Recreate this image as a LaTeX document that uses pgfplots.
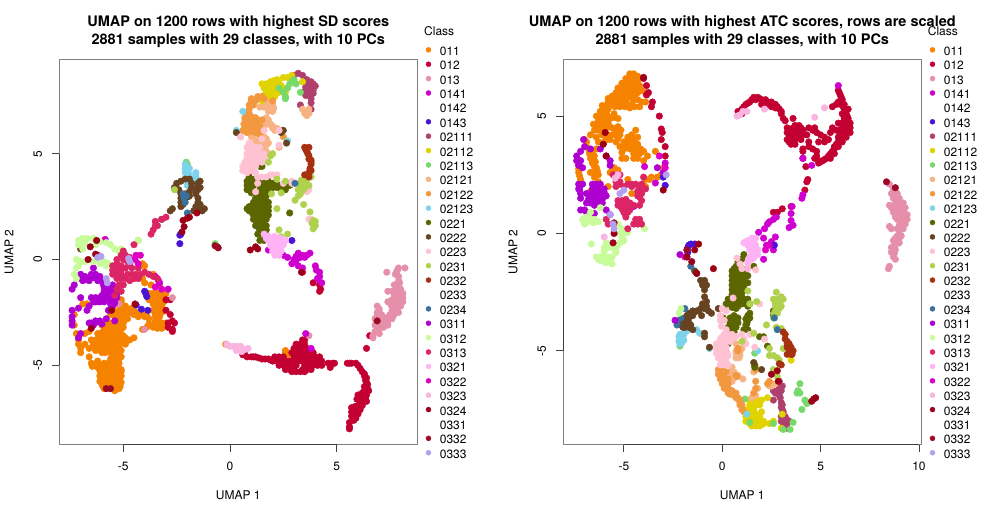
\documentclass[border=0pt]{standalone}
\usepackage{fontspec}
\setmainfont{TeX Gyre Heros}
\usepackage{pgfplots}
\pgfplotsset{compat=1.18}
\definecolor{c011}{HTML}{F58300}
\definecolor{c012}{HTML}{C20032}
\definecolor{c013}{HTML}{E58FAB}
\definecolor{c0141}{HTML}{CF00CF}
\definecolor{c0143}{HTML}{4B13D6}
\definecolor{c02111}{HTML}{AF3F6C}
\definecolor{c02112}{HTML}{E0D300}
\definecolor{c02113}{HTML}{76D96A}
\definecolor{c02121}{HTML}{F7B384}
\definecolor{c02122}{HTML}{F2993F}
\definecolor{c02123}{HTML}{7CD3EC}
\definecolor{c0221}{HTML}{5B6600}
\definecolor{c0222}{HTML}{684321}
\definecolor{c0223}{HTML}{FFC2D2}
\definecolor{c0231}{HTML}{B0D14E}
\definecolor{c0232}{HTML}{A6300F}
\definecolor{c0234}{HTML}{38719E}
\definecolor{c0311}{HTML}{AE00D0}
\definecolor{c0312}{HTML}{C8FB9A}
\definecolor{c0313}{HTML}{DC2565}
\definecolor{c0321}{HTML}{FFB3F5}
\definecolor{c0322}{HTML}{DE00C2}
\definecolor{c0323}{HTML}{FAB4E0}
\definecolor{c0324}{HTML}{9B0018}
\definecolor{c0332}{HTML}{9D0A28}
\definecolor{c0333}{HTML}{B4A0EE}
\definecolor{boxgray}{HTML}{808080}
\newcommand{\txt}{\fontsize{12}{14}\selectfont}
\pgfplotsset{
  cl/.style={only marks,mark=*,mark size=3.3pt,color=#1,mark options={draw=none,fill=#1}},
  panel/.style={
    scale only axis,width=358pt,height=385.4pt,anchor=south west,clip=false,
    axis line style={draw=boxgray,line width=0.9pt},
    tick style={draw=black!75,line width=0.8pt},
    tick align=outside,major tick length=7pt,
    xtick pos=bottom,ytick pos=left,
    tick label style={font=\txt},
    xticklabel style={yshift=-6.5pt},
    yticklabel style={rotate=90,anchor=center,yshift=14.5pt},
    label style={font=\txt},
    xlabel style={at={(axis description cs:0.5,0)},anchor=center,yshift=-50.5pt},
    ylabel style={at={(axis description cs:0,0.5)},anchor=center,yshift=50.3pt},
    title style={font=\fontsize{14.5}{18}\selectfont\bfseries,align=center,anchor=center,yshift=-7.5pt},
    xlabel={UMAP 1},ylabel={UMAP 2},
    legend cell align=left,
    legend image code/.code={\draw[##1,mark size=2.5pt,yshift=1pt] plot coordinates {(0pt,0pt)};},
    legend style={draw=none,fill=none,inner sep=0pt,font=\txt,row sep=5.39pt,
      anchor=north west,at={(axis description cs:1.0237,1.0342)},
      nodes={inner sep=0pt,text height=9pt,text depth=0pt},
      /tikz/every even column/.style={column sep=0pt},
      /tikz/every odd column/.style={column sep=8.9pt}},
  }
}
\newcommand{\Cl}[3]{\addplot[cl=#1] coordinates {#3};\addlegendentry{#2}}
\newcommand{\Em}[1]{\addlegendimage{cl=white}\addlegendentry{#1}}
\begin{document}
\begin{tikzpicture}[x=1pt,y=1pt]
\path[use as bounding box] (0,0) rectangle (1008pt,504pt);
\begin{axis}[panel,at={(59.3pt,59.3pt)},xmin=-8.0,xmax=8.78,ymin=-8.75,ymax=9.46,
  xtick={-5,0,5},xticklabels={-5,0,5},ytick={-5,0,5},yticklabels={-5,0,5},
  title={UMAP on 1200 rows with highest SD scores\\2881 samples with 29 classes, with 10 PCs},
  title style={at={(axis description cs:0.5,1.076)}}]
\Cl{c011}{011}{(-5.9,-6.1)(-5.6,-6.1)(-5.4,-6.2)(-5.2,-6.1)(-6.0,-5.9)(-5.8,-5.8)(-5.6,-5.9)(-5.4,-5.9)(-5.2,-5.9)(-6.0,-5.6)(-5.8,-5.6)(-5.6,-5.6)(-5.4,-5.7)(-5.2,-5.7)(-6.0,-5.4)(-5.8,-5.4)(-5.6,-5.3)(-5.4,-5.4)(-5.2,-5.4)(-6.4,-5.0)(-6.2,-5.1)(-6.0,-5.1)(-5.8,-5.1)(-5.5,-5.1)(-5.3,-5.1)(-5.1,-5.2)(-6.5,-4.9)(-6.2,-4.8)(-5.9,-4.9)(-5.7,-4.9)(-5.4,-4.9)(-5.2,-4.9)(-5.6,-4.7)(-5.4,-4.7)(-5.2,-4.7)(-5.5,-4.5)(-5.3,-4.5)(-5.5,-4.3)(-5.3,-4.3)(-5.2,-4.1)(-5.5,-4.1)(-6.0,-3.1)(-5.8,-3.0)(-5.6,-3.0)(-5.4,-3.0)(-5.2,-3.0)(-5.0,-3.0)(-5.9,-3.3)(-5.7,-3.3)(-5.5,-3.3)(-5.3,-3.3)(-5.1,-3.3)(-6.1,-3.6)(-5.9,-3.6)(-5.6,-3.5)(-5.4,-3.5)(-5.2,-3.5)(-5.0,-3.6)(-6.5,-3.8)(-6.3,-3.8)(-6.0,-3.8)(-5.8,-3.8)(-5.5,-3.8)(-5.3,-3.8)(-5.1,-3.9)(-4.9,-3.9)(-4.7,-3.8)(-4.5,-3.7)(-6.4,-4.0)(-6.2,-4.0)(-5.9,-4.0)(-5.7,-4.0)(-4.9,-4.0)(-6.3,-4.2)(-6.1,-4.3)(-5.9,-4.2)(-5.7,-4.2)(-6.6,-4.2)(-6.8,-4.0)(-5.4,-2.7)(-5.2,-2.7)(-5.0,-2.6)(-4.8,-2.6)(-4.6,-2.5)(-5.2,-2.4)(-5.0,-2.4)(-4.8,-2.4)(-4.6,-2.3)(-5.1,-2.2)(-4.9,-2.2)(-5.3,-2.1)(-5.1,-2.0)(-5.6,-2.6)(-5.5,-2.4)(-4.9,-2.8)(-7.2,-3.5)(-7.1,-3.8)(-7.1,-4.0)(-7.0,-4.2)(-7.0,-4.4)(-6.6,-4.6)(-6.6,-3.4)(-6.8,-3.5)(-3.8,-1.6)(-3.6,-1.6)(-3.4,-1.6)(-3.2,-1.7)(-3.0,-1.6)(-3.8,-1.9)(-3.6,-1.9)(-3.4,-1.9)(-3.1,-2.0)(-3.6,-2.1)(-3.4,-2.2)(-3.2,-2.2)(-3.6,-2.4)(-3.4,-2.5)(-3.2,-2.5)(-4.5,-2.6)(-4.2,-2.6)(-4.0,-2.7)(-3.8,-2.8)(-3.5,-2.7)(-3.4,-2.9)(-3.7,-3.1)(-3.5,-3.1)(-3.3,-3.2)(-3.1,-3.1)(-2.9,-3.2)(-3.9,-3.2)(-4.1,-3.3)(-4.0,-1.1)(-3.7,-1.2)(-3.3,-1.2)(-4.1,-0.9)(-3.6,-0.7)(-4.0,-0.3)(-6.9,-2.1)(-6.7,-2.1)(-6.2,-2.0)(-7.3,-2.6)(-7.3,-3.1)(-5.1,-1.9)(-5.1,-1.2)(-4.1,-0.2)(2.6,-4.3)(2.7,-4.5)(2.6,-4.4)(-0.2,-4.0)(-6.1,-5.25)(-5.9,-5.25)(-5.7,-5.25)(-5.45,-5.25)(-5.25,-5.25)(-5.1,-5.3)(-5.1,-5.5)(-5.3,-5.55)(-5.5,-5.5)(-5.1,-5.8)(-5.3,-5.8)(-5.5,-5.75)(-5.15,-6.0)(-5.35,-6.05)(-5.55,-6.0)(-5.75,-6.0)(-5.95,-6.0)(-6.1,-5.75)(-6.1,-5.5)(-5.9,-5.5)(-5.7,-5.45)(-5.3,-5.0)(-5.5,-4.95)(-5.8,-5.0)(-6.05,-5.0)(-6.3,-4.95)(-6.45,-5.05)(-5.35,-4.6)(-5.2,-4.4)(-5.4,-4.2)(-5.1,-4.6)(-5.1,-4.3)(-5.6,-4.4)(-5.3,-4.0)(-6.2,-3.5)(-6.0,-3.45)(-5.8,-3.45)(-5.8,-3.15)(-5.6,-3.15)(-5.4,-3.15)(-5.2,-3.15)(-5.0,-3.2)(-5.7,-3.65)(-5.5,-3.65)(-5.3,-3.65)(-5.1,-3.7)(-4.9,-3.7)(-6.4,-3.95)(-6.2,-3.85)(-5.95,-3.75)(-6.15,-4.15)(-5.85,-4.1)(-5.75,-3.9)(-6.0,-4.4)(-5.85,-4.4)(-6.3,-4.3)(-5.3,-2.85)(-5.1,-2.85)(-5.2,-2.55)(-5.0,-2.75)(-4.8,-2.8)(-4.9,-2.5)(-4.7,-2.45)(-5.4,-2.5)(-4.5,-2.45)(-4.4,-2.5)(-4.3,-2.7)(-4.1,-2.55)(-3.9,-2.6)(-3.7,-1.75)(-3.5,-1.75)(-3.3,-1.75)(-3.6,-2.0)(-3.4,-2.05)(-3.5,-2.25)(-3.3,-2.35)(-3.5,-2.55)(-3.3,-2.7)(-3.5,-2.9)(-3.6,-3.2)(-3.4,-3.25)(-3.2,-3.25)(-3.8,-3.05)(-3.2,-3.0)(-3.1,-1.85)(-3.0,-3.0)}
\Cl{c012}{012}{(0.6,-4.5)(0.8,-4.6)(1.0,-4.6)(1.2,-4.6)(1.5,-4.7)(1.8,-4.7)(1.9,-4.75)(3.4,-3.8)(3.5,-3.8)(3.1,-4.0)(3.3,-4.0)(3.5,-4.0)(3.0,-4.2)(3.2,-4.2)(3.4,-4.2)(3.6,-4.2)(2.9,-4.4)(3.1,-4.4)(3.3,-4.4)(3.5,-4.4)(3.7,-4.4)(3.9,-4.4)(2.1,-4.6)(2.3,-4.6)(2.5,-4.6)(3.0,-4.6)(3.2,-4.6)(3.4,-4.6)(3.6,-4.6)(3.8,-4.6)(4.0,-4.6)(4.2,-4.6)(2.0,-4.8)(2.2,-4.8)(2.4,-4.8)(2.6,-4.8)(2.8,-4.8)(3.0,-4.8)(3.2,-4.8)(3.4,-4.8)(3.6,-4.8)(3.8,-4.8)(4.0,-4.8)(4.2,-4.8)(4.3,-4.8)(2.3,-5.0)(2.5,-5.0)(2.7,-5.0)(2.9,-5.0)(3.1,-5.0)(3.5,-5.0)(3.7,-5.0)(3.9,-5.0)(4.1,-5.0)(4.3,-5.0)(2.6,-5.2)(2.8,-5.2)(3.0,-5.2)(3.4,-5.2)(3.6,-5.2)(3.8,-5.2)(2.9,-5.3)(3.1,-5.3)(3.3,-5.3)(3.5,-5.3)(4.6,-4.9)(4.8,-4.9)(4.7,-5.1)(4.9,-4.9)(5.5,-4.9)(5.7,-4.9)(5.9,-4.9)(6.0,-5.0)(6.2,-5.3)(6.3,-5.5)(6.4,-5.6)(6.4,-5.8)(6.4,-6.0)(6.5,-6.2)(6.3,-6.2)(6.4,-6.4)(6.2,-6.5)(6.0,-6.4)(6.1,-6.7)(6.4,-6.7)(6.2,-6.9)(6.0,-6.9)(5.7,-7.0)(5.9,-7.1)(6.1,-7.1)(5.7,-7.2)(6.0,-7.3)(5.9,-7.5)(5.8,-7.6)(5.6,-7.7)(5.6,-7.9)(5.6,-8.0)(4.2,-1.2)(4.25,-1.4)(4.2,-1.5)(3.9,-1.1)(3.4,-0.6)(-3.0,-2.4)(-2.8,-2.6)(-2.7,-2.9)(-2.9,-3.0)(-2.6,-3.0)(-2.7,-3.3)(-2.7,-3.4)(-2.9,-3.2)(-3.0,-1.9)(-2.8,-1.9)(6.9,-3.0)(6.4,-4.2)(6.55,-3.6)(6.3,-5.4)(6.35,-5.7)(6.45,-5.9)(6.3,-6.0)(6.45,-6.1)(6.2,-6.3)(6.35,-6.55)(6.15,-6.6)(5.95,-6.6)(6.0,-7.0)(5.85,-6.95)(6.2,-6.75)(5.85,-7.3)(5.95,-7.15)(5.7,-7.4)(0.7,-4.5)(1.1,-4.6)(1.35,-4.65)(1.65,-4.7)(6.1,-5.15)(5.6,-4.9)}
\Cl{c013}{013}{(8.2,-0.4)(7.9,-0.4)(7.8,-0.6)(7.9,-0.8)(7.9,-1.0)(7.7,-1.2)(7.9,-1.2)(8.0,-1.4)(7.8,-1.4)(7.6,-1.5)(7.4,-1.5)(8.1,-1.6)(7.9,-1.6)(7.7,-1.7)(8.1,-1.8)(7.9,-1.8)(7.6,-1.9)(7.4,-2.0)(8.1,-2.0)(7.9,-2.0)(7.7,-2.1)(8.0,-2.2)(7.8,-2.3)(7.6,-2.4)(7.9,-2.5)(7.7,-2.6)(7.5,-2.6)(7.6,-2.8)(7.4,-2.9)(7.2,-3.0)(7.4,-3.1)(7.1,-2.6)(6.9,-2.2)(6.9,-2.5)(7.0,-2.7)(6.8,-2.8)(7.2,-3.2)(7.0,-3.3)(6.8,-3.1)(6.8,-3.4)(7.0,-3.5)(6.7,-3.6)(6.7,-3.7)(7.35,-0.6)(3.7,-3.6)(-5.2,-2.1)(-2.7,-1.8)(-4.0,-3.3)(7.55,-2.15)(7.3,-2.75)(7.1,-2.85)(7.0,-3.0)(7.3,-3.0)(7.5,-2.75)(6.9,-3.2)(7.1,-3.1)(6.9,-2.65)(7.0,-2.35)(7.75,-1.95)(7.95,-2.2)(7.75,-2.45)(7.6,-2.6)(7.85,-1.5)(7.95,-1.1)(7.75,-0.7)(7.85,-0.5)}
\Cl{c0141}{0141}{(1.8,0.45)(2.2,0.3)(2.5,0.2)(2.7,0.1)(3.0,0.0)(3.0,-0.1)(2.9,-0.2)(3.4,-0.4)(3.2,-0.3)(3.2,0.3)(3.5,0.1)(3.75,0.3)(3.4,0.2)(4.0,-0.3)(4.05,-0.5)(4.2,-0.8)(4.1,-0.9)(4.3,-1.1)(4.2,-0.6)(-3.5,-0.8)(-3.35,-1.0)(-2.9,-1.4)(-3.3,-1.1)(3.8,-4.2)(3.55,-3.5)(-5.85,0.95)(3.1,0.15)(3.3,0.1)(3.6,0.2)(3.1,-0.05)}
\Em{0142}
\Cl{c0143}{0143}{(-2.35,0.75)(-2.35,1.15)(-2.3,1.2)(-4.0,-1.5)(-3.9,-1.75)(-4.4,-2.15)(-4.15,-2.35)(-3.85,-2.4)(-3.95,-1.6)(2.9,0.9)}
\Cl{c02111}{02111}{(3.0,8.7)(3.2,8.8)(3.4,8.7)(3.6,8.5)(3.8,8.4)(4.0,8.2)(3.8,8.2)(3.6,8.3)(3.7,8.0)(3.9,8.0)(3.6,7.9)(3.8,7.8)(3.8,7.6)(3.8,7.4)(3.8,7.1)(3.3,7.3)(3.9,8.3)(3.55,8.15)(3.5,7.95)(3.65,7.85)(3.9,7.85)(3.55,7.75)}
\Cl{c02112}{02112}{(2.5,8.6)(2.7,8.6)(2.9,8.7)(2.2,8.5)(2.0,8.3)(1.7,8.3)(1.5,8.3)(1.9,8.4)(1.8,8.1)(2.0,8.1)(2.2,8.2)(2.4,8.2)(1.6,8.1)(1.7,7.9)(1.9,7.9)(2.1,7.9)(2.3,7.9)(2.1,7.7)(1.9,7.6)(1.5,7.7)(1.7,7.6)(1.5,7.5)(1.6,7.4)(1.9,7.5)(3.4,8.4)(2.6,7.9)(2.5,8.1)(1.8,8.3)(2.05,8.45)(1.9,8.2)(2.1,8.2)(2.3,8.35)(2.1,8.05)(1.8,7.75)(1.6,7.75)(2.0,7.8)(2.2,8.0)(1.75,8.2)}
\Cl{c02113}{02113}{(2.9,8.4)(3.0,8.5)(2.8,8.3)(3.1,8.3)(2.5,7.9)(2.6,7.7)(2.6,7.6)(3.3,7.9)(2.3,8.1)(2.7,8.1)(-2.0,4.5)(-2.05,4.6)(-0.7,0.75)}
\Cl{c02121}{02121}{(3.4,7.1)(3.6,7.0)(3.5,6.9)(3.7,6.9)(3.6,6.8)(3.7,7.1)(1.7,6.7)(1.8,6.6)(1.6,6.5)(1.8,6.4)(1.6,6.3)(2.0,6.2)(2.2,6.2)(2.4,6.1)(2.0,7.3)(1.4,7.2)(1.9,7.2)(2.0,7.4)(1.6,7.2)(0.7,6.6)(0.8,6.4)(0.7,6.1)(0.9,6.0)(1.0,6.4)(1.2,5.6)(1.5,5.4)(1.7,5.7)(1.6,5.3)(1.8,5.0)(1.7,5.1)(1.8,5.5)(2.3,5.3)(1.6,5.8)(2.1,6.1)(1.4,5.6)(1.2,5.9)(1.0,5.8)(0.5,5.8)(1.3,5.5)(1.5,5.55)(1.45,5.2)(1.7,5.4)(1.6,5.05)(1.9,6.4)(2.0,6.3)(1.7,6.55)(1.75,7.4)(2.05,7.15)(1.9,7.3)(1.8,7.3)(1.9,7.1)(2.0,7.0)(1.8,7.0)}
\Cl{c02122}{02122}{(1.0,7.5)(0.9,7.3)(1.3,7.6)(1.1,7.5)(0.9,7.1)(0.8,6.9)(0.7,6.7)(0.9,6.6)(1.1,6.6)(1.3,6.6)(1.2,6.4)(1.4,6.3)(1.2,6.2)(0.7,6.2)(0.8,6.0)(0.6,6.1)(1.0,6.2)(1.3,6.1)(1.2,6.0)(1.4,5.9)(1.5,6.6)(1.6,7.6)(2.0,7.5)(1.5,7.7)(1.3,7.7)(1.1,7.3)(2.5,5.8)(1.0,7.4)(1.2,7.5)(1.0,7.6)(0.9,6.9)(1.0,6.75)(0.8,6.75)(1.2,6.7)(1.4,6.55)(1.35,6.4)(1.1,6.3)(0.9,6.35)(1.25,6.05)(1.05,6.05)(0.65,6.4)(0.85,6.2)}
\Cl{c02123}{02123}{(0.6,7.0)(0.3,6.1)(2.7,5.6)(-2.1,4.3)(-1.9,4.3)(-2.1,4.1)(-1.9,4.0)(-1.6,3.9)(-1.6,4.1)(-1.7,3.8)(-2.0,3.5)(-2.1,4.5)}
\Cl{c0221}{0221}{(1.4,4.4)(1.5,4.4)(0.9,4.1)(0.9,3.9)(1.0,3.8)(0.8,3.7)(0.8,3.5)(1.0,3.6)(0.9,3.3)(1.1,3.2)(1.2,3.8)(1.4,3.7)(1.6,3.8)(1.8,3.7)(2.0,3.6)(1.4,3.5)(1.6,3.5)(1.8,3.4)(2.0,3.4)(2.2,3.4)(2.4,3.3)(2.6,3.4)(2.8,3.5)(2.6,3.3)(1.4,3.3)(1.6,3.2)(1.8,3.2)(1.3,3.0)(1.5,3.0)(1.7,3.0)(1.4,2.8)(1.6,2.8)(1.8,2.7)(1.1,2.7)(0.9,2.5)(1.2,2.5)(1.4,2.5)(1.6,2.5)(1.8,2.5)(0.8,2.4)(1.0,2.3)(1.2,2.3)(1.4,2.3)(1.6,2.2)(1.8,2.3)(1.1,2.1)(1.3,2.1)(1.5,2.0)(1.8,2.1)(1.1,1.9)(1.3,1.8)(1.5,1.8)(1.7,1.9)(1.2,1.6)(1.4,1.6)(1.6,1.5)(1.7,1.6)(1.4,1.4)(1.6,1.3)(1.7,1.4)(1.6,0.9)(1.4,0.9)(1.3,1.2)(1.5,1.2)(2.8,2.2)(2.5,3.5)(1.0,3.4)(0.8,3.3)(1.1,3.5)(1.0,3.15)(1.7,3.5)(1.9,3.55)(2.1,3.5)(2.3,3.5)(1.7,3.3)(1.5,3.4)(1.9,3.25)(1.45,3.15)(1.65,3.05)(1.2,2.9)(1.4,2.95)(1.6,2.65)(1.3,2.65)(1.05,2.55)(1.15,2.35)(0.9,2.3)(1.3,2.4)(1.5,2.4)(1.7,2.4)(1.25,2.2)(1.45,2.2)(1.65,2.35)(1.05,2.2)(1.4,2.0)(1.25,1.95)(1.6,2.0)(1.4,1.7)(1.6,1.65)(1.35,1.5)(1.55,1.4)}
\Cl{c0222}{0222}{(-2.6,3.4)(-2.5,3.6)(-2.3,3.7)(-2.1,3.8)(-1.9,3.8)(-1.8,3.6)(-1.8,3.4)(-1.9,3.2)(-2.4,3.3)(-2.3,3.1)(-2.1,3.1)(-2.3,2.9)(-2.1,2.9)(-2.3,2.7)(-1.9,3.0)(-2.3,2.5)(-2.2,2.6)(-1.4,3.7)(-1.5,3.5)(-1.4,3.4)(-1.6,3.3)(-1.6,3.1)(-1.5,2.9)(-1.5,2.7)(-1.6,2.5)(-1.4,2.5)(-1.2,2.4)(-1.7,2.3)(-1.5,2.3)(-1.3,2.3)(-2.7,2.4)(-2.8,2.3)(2.4,6.0)(2.5,6.1)(2.65,5.5)(0.3,6.0)(-7.0,0.5)(-2.2,3.0)(-2.0,2.95)(-1.95,3.1)(-2.2,2.75)(-1.55,2.4)(-1.45,2.4)(-1.4,2.6)(-1.5,3.6)(-1.5,3.3)}
\Cl{c0223}{0223}{(0.8,5.3)(1.0,5.4)(1.2,5.3)(1.4,5.3)(1.0,5.1)(0.8,5.0)(1.2,5.1)(1.4,5.0)(1.6,5.0)(0.8,4.8)(1.0,4.8)(1.2,4.9)(1.4,4.8)(1.6,4.8)(0.7,4.6)(0.9,4.6)(1.1,4.6)(1.3,4.6)(1.5,4.6)(0.6,4.4)(0.8,4.3)(1.0,4.4)(1.2,4.4)(0.6,4.2)(0.8,4.1)(1.0,4.2)(1.2,4.1)(1.3,3.9)(1.5,3.9)(1.7,3.9)(2.0,4.0)(2.2,4.0)(1.9,4.0)(0.5,5.8)(1.5,5.7)(0.9,5.5)(2.3,6.1)(1.6,6.1)(2.3,5.4)(2.9,3.7)(2.9,3.6)(2.5,3.6)(3.6,3.2)(3.7,3.3)(3.7,1.9)(3.8,1.9)(1.3,3.6)(1.2,3.2)(0.9,5.2)(1.1,5.2)(1.3,5.2)(0.9,4.9)(1.1,5.0)(1.3,4.95)(1.5,4.9)(1.1,4.75)(1.3,4.75)(0.8,4.5)(1.0,4.5)(1.2,4.5)(0.7,4.3)(0.9,4.2)(1.1,4.3)}
\Cl{c0231}{0231}{(3.35,3.75)(3.6,3.8)(3.45,3.6)(3.7,3.5)(3.3,3.4)(3.3,3.1)(3.05,2.8)(3.45,2.6)(3.2,3.0)(3.5,3.4)(2.2,2.4)(2.2,3.8)(2.6,3.7)(2.4,3.15)(1.95,3.1)(3.8,3.9)(3.9,1.85)(4.0,1.6)(3.9,1.45)(3.75,2.25)(4.0,1.8)(2.3,1.4)(2.7,1.2)(2.4,1.07)(1.8,4.6)(2.0,5.0)(1.9,4.9)(-4.3,0.9)(-2.6,3.3)(3.3,3.6)(3.5,3.7)(3.6,3.55)(3.45,3.3)(3.2,3.3)(3.95,1.7)(3.85,1.7)}
\Cl{c0232}{0232}{(3.5,5.3)(3.7,5.3)(3.6,5.1)(3.7,4.9)(3.8,4.7)(3.8,4.5)(3.7,4.1)(3.5,4.0)(3.7,3.9)(3.8,4.2)(3.55,5.2)(3.65,5.0)(3.7,4.75)(3.8,4.6)(3.6,4.0)(3.75,4.3)}
\Em{0233}
\Cl{c0234}{0234}{(-2.15,2.9)(-2.2,3.1)(-2.1,2.7)(-2.0,2.2)(-3.2,1.9)(3.05,3.6)(-2.05,3.0)}
\Cl{c0311}{0311}{(-7.4,-1.4)(-7.3,-1.2)(-7.0,-0.7)(-7.0,-0.9)(-6.8,-0.8)(-6.6,-0.9)(-6.4,-0.4)(-6.5,-0.7)(-6.3,-0.7)(-6.1,-0.8)(-6.2,-1.0)(-6.0,-1.0)(-5.8,-1.1)(-5.9,-1.3)(-5.7,-1.3)(-5.5,-1.2)(-5.4,-1.4)(-5.9,-1.5)(-5.7,-1.5)(-5.5,-1.6)(-5.3,-1.6)(-5.3,-1.8)(-5.8,-1.7)(-5.6,-1.7)(-6.0,-1.7)(-6.5,-1.8)(-6.3,-1.8)(-6.4,-2.0)(-6.2,-1.9)(-6.0,-1.9)(-5.8,-1.9)(-5.6,-1.9)(-5.6,-2.1)(-6.6,-2.2)(-5.7,-2.4)(-5.5,-2.2)(-5.8,-2.8)(-6.3,-2.9)(-6.1,-2.9)(-6.6,-3.0)(-6.4,-3.1)(-7.4,-2.7)(-7.4,-2.9)(-7.4,-3.1)(-7.4,-2.4)(-7.1,-2.3)(-6.7,-2.4)(-7.0,-3.5)(-7.1,-3.7)(-7.0,-1.8)(-6.9,-1.0)(-5.4,-2.9)(-5.7,-1.2)(-5.6,-1.4)(-5.4,-1.55)(-5.5,-1.8)(-6.1,-1.8)(-5.9,-1.8)(-5.7,-1.8)(-5.9,-2.0)(-6.1,-2.0)(-6.3,-2.0)(-6.6,-1.0)(-6.2,-0.85)(-6.4,-0.85)(-6.75,-0.95)(-5.95,-1.15)(-5.8,-1.35)(-5.6,-1.6)(-5.4,-2.05)(-6.2,-2.95)(-6.5,-3.0)(-6.0,-3.05)}
\Cl{c0312}{0312}{(-7.1,0.7)(-7.1,0.9)(-6.9,1.0)(-6.7,1.0)(-6.4,1.0)(-6.3,0.9)(-6.1,0.85)(-5.8,0.8)(-5.6,0.7)(-5.4,0.5)(-5.2,0.4)(-5.1,0.3)(-5.1,0.5)(-6.9,0.5)(-7.2,0.0)(-7.2,-0.4)(-7.3,-0.7)(-7.1,-0.3)(-7.0,-0.1)(-6.8,-0.1)(-6.6,0.0)(-6.4,-0.1)(-6.1,-0.2)(-5.9,-0.1)(-5.7,-0.2)(-5.4,-0.3)(-6.8,0.8)(-6.3,0.7)(-4.3,0.9)(-7.2,-0.9)(-5.8,-0.3)}
\Cl{c0313}{0313}{(-5.0,0.4)(-5.1,0.2)(-5.3,0.0)(-4.9,0.2)(-4.7,0.1)(-5.0,0.0)(-4.8,-0.1)(-5.3,-0.2)(-5.5,-0.3)(-5.1,-0.3)(-4.7,-0.2)(-5.5,-0.5)(-5.3,-0.5)(-5.1,-0.5)(-4.9,-0.4)(-4.6,-0.4)(-5.5,-0.7)(-5.3,-0.7)(-5.1,-0.7)(-4.8,-0.7)(-4.6,-0.7)(-4.4,-0.7)(-4.2,-0.7)(-4.0,-0.6)(-3.8,-0.7)(-3.6,-0.8)(-3.4,-0.9)(-5.3,-0.9)(-5.1,-0.9)(-4.9,-0.9)(-4.7,-1.0)(-4.5,-0.9)(-4.3,-0.9)(-5.2,-1.2)(-5.0,-1.2)(-5.3,-1.4)(-5.1,-1.5)(-5.4,-1.7)(-3.5,1.8)(-3.4,1.6)(-3.5,1.6)(-3.6,1.4)(-3.7,1.2)(-3.2,1.9)(-3.0,2.0)(-4.5,0.7)(-4.3,-0.4)}
\Cl{c0321}{0321}{(1.6,1.2)(1.8,1.1)(2.0,1.0)(2.2,1.0)(2.4,1.0)(1.7,1.0)(1.9,0.8)(2.1,0.8)(2.3,0.8)(2.5,0.8)(2.6,0.9)(2.0,0.6)(2.2,0.6)(2.4,0.6)(2.2,0.4)(2.0,0.4)(2.4,0.4)(2.1,0.2)(2.3,0.2)(2.1,1.1)(1.9,1.0)(2.1,0.9)(2.3,0.9)(1.8,0.9)(2.1,0.7)(2.3,0.7)(2.5,0.7)(1.9,0.65)(2.3,0.5)(2.1,0.5)(2.2,0.3)}
\Cl{c0322}{0322}{(-4.4,0.2)(-4.45,0.0)(-4.2,0.2)(-4.3,-0.2)(-3.5,-1.3)(-3.2,-1.4)}
\Cl{c0323}{0323}{(-0.15,-4.0)(0.15,-4.1)(0.3,-4.3)(0.55,-4.35)(0.85,-4.2)(0.7,-4.25)(0.45,-4.2)(0.0,-4.1)(0.3,-4.1)(0.5,-4.1)}
\Cl{c0324}{0324}{(-6.3,0.25)(-6.2,0.2)(-6.65,0.0)(-6.25,0.9)(-6.55,0.6)(-4.45,-2.1)(-6.5,-3.25)(-5.55,-2.4)(0.95,0.45)(1.3,0.5)(1.2,0.6)(3.35,-0.6)(-2.0,1.95)(-1.9,2.0)(-2.2,1.85)(-1.55,2.2)(-2.15,1.55)(-2.25,1.3)}
\Em{0331}
\Cl{c0332}{0332}{(-0.7,0.65)(-0.55,0.55)(-0.6,0.6)(-5.8,-6.1)(-5.6,-6.1)(6.9,-2.9)}
\Cl{c0333}{0333}{(-6.2,0.1)(-6.05,0.15)(-4.75,0.05)(-4.7,-0.1)(-5.8,-0.9)(-5.75,-1.1)}
\draw[black!75,line width=0.9pt] (axis cs:-5,-8.75)--(axis cs:5,-8.75);
\draw[black!75,line width=0.9pt] (axis cs:-8,-5)--(axis cs:-8,5);
\end{axis}
\node[font=\txt,anchor=base west,inner sep=0pt] at (424pt,468pt) {Class};
\begin{axis}[panel,at={(563.3pt,59.3pt)},xmin=-8.08,xmax=10.12,ymin=-9.0,ymax=7.42,
  xtick={-5,0,5,10},xticklabels={-5,0,5,10},ytick={-5,0,5},yticklabels={-5,0,5},
  title={UMAP on 1200 rows with highest ATC scores, rows are scaled\\2881 samples with 29 classes, with 10 PCs},
  title style={at={(axis description cs:0.5,1.076)}}]
\Cl{c011}{011}{(-4.7,6.8)(-4.5,6.8)(-4.3,6.7)(-4.9,6.6)(-4.7,6.6)(-4.5,6.6)(-4.3,6.5)(-5.1,6.4)(-4.9,6.4)(-4.7,6.4)(-4.5,6.3)(-4.2,6.3)(-5.3,6.2)(-5.1,6.1)(-4.9,6.1)(-4.6,6.1)(-4.3,6.0)(-4.1,6.1)(-3.9,6.0)(-5.4,6.0)(-5.2,5.9)(-5.0,5.8)(-4.7,5.8)(-4.3,5.7)(-4.1,5.6)(-3.9,5.6)(-5.6,5.7)(-5.8,5.6)(-5.6,5.5)(-5.4,5.6)(-5.1,5.5)(-4.9,5.6)(-4.6,5.5)(-6.2,5.0)(-6.0,5.2)(-5.8,5.3)(-6.3,4.8)(-6.1,4.8)(-5.9,4.9)(-5.7,4.9)(-5.5,5.1)(-6.4,4.6)(-6.2,4.5)(-6.0,4.6)(-5.8,4.7)(-6.5,4.4)(-6.3,4.4)(-6.0,4.4)(-5.6,4.5)(-5.4,4.4)(-5.2,4.2)(-5.6,4.2)(-5.4,4.2)(-6.7,4.2)(-6.4,4.1)(-6.1,4.2)(-7.0,4.0)(-6.9,3.9)(-6.3,3.9)(-6.0,3.9)(-5.7,4.0)(-5.4,3.9)(-5.0,3.9)(-4.8,4.1)(-4.6,4.2)(-4.4,4.4)(-4.3,4.1)(-4.6,3.9)(-5.2,3.7)(-5.0,3.6)(-4.7,3.6)(-4.4,3.6)(-4.2,3.4)(-4.0,3.5)(-3.8,3.3)(-5.1,3.2)(-4.9,3.2)(-4.5,3.2)(-4.3,3.2)(-4.0,3.1)(-6.8,3.6)(-6.6,3.5)(-6.4,3.6)(-6.7,3.2)(-6.6,3.0)(-6.4,2.8)(-6.5,3.3)(-7.3,2.9)(-7.3,2.6)(-7.2,2.3)(-6.3,2.5)(-6.5,2.4)(-6.3,2.2)(-6.7,2.6)(-5.5,2.8)(-5.3,2.7)(-5.7,2.6)(-5.5,2.5)(-3.9,2.3)(-3.7,2.3)(-3.9,2.0)(-3.6,2.4)(-4.6,1.7)(-6.7,1.8)(-5.8,2.0)(-4.8,2.3)(-3.4,3.5)(-3.1,2.5)(-3.0,2.8)(-3.3,2.4)(-4.6,6.7)(-4.8,6.5)(-4.6,6.5)(-5.0,6.25)(-4.8,6.25)(-4.4,6.2)(-5.2,6.05)(-5.0,5.95)(-4.8,5.95)(-4.6,5.95)(-4.4,5.95)(-5.4,5.8)(-5.2,5.75)(-4.5,5.7)(-5.6,5.85)(-5.8,5.75)(-5.9,5.45)(-6.1,5.45)(-5.75,5.45)(-5.45,5.4)(-5.2,5.4)(-4.95,5.4)(-4.7,5.35)(-4.45,5.4)(-4.2,5.4)(-6.2,5.2)(-6.4,5.0)(-6.05,5.0)(-5.85,5.05)(-5.5,4.95)(-5.3,4.9)(-6.55,4.65)(-6.3,4.6)(-5.9,4.5)(-5.75,4.55)(-5.3,4.55)(-5.15,4.4)(-5.8,4.2)(-5.9,4.0)(-5.3,4.05)(-4.5,4.0)(-4.75,3.9)(-4.9,3.75)(-4.6,3.75)(-4.3,3.8)(-4.15,3.6)(-5.1,3.45)(-4.5,3.4)(-6.9,3.7)(-6.75,3.4)(-6.55,3.2)(-6.5,2.6)(-6.45,3.05)(-6.5,2.85)(-6.35,2.65)(-7.3,2.75)(-7.25,2.45)(-5.35,2.5)(-5.5,2.65)}
\Cl{c012}{012}{(0.8,5.2)(1.0,5.3)(1.2,5.5)(1.4,5.6)(1.6,5.8)(1.8,5.8)(2.0,5.7)(2.2,5.7)(2.3,5.6)(2.0,5.5)(2.5,5.6)(2.7,5.5)(2.5,5.4)(2.9,5.3)(3.0,5.1)(3.1,4.9)(3.2,4.8)(3.6,4.9)(1.0,5.1)(3.3,4.5)(3.3,4.3)(3.5,4.4)(3.5,4.2)(3.5,4.0)(3.3,4.0)(3.7,4.6)(3.9,4.6)(3.7,4.4)(3.9,4.4)(4.1,4.4)(3.7,4.2)(3.9,4.2)(4.1,4.2)(3.7,4.0)(4.0,4.0)(3.5,3.8)(3.7,3.8)(4.3,4.2)(4.6,4.4)(4.8,4.3)(5.0,4.2)(4.4,4.5)(4.7,4.5)(4.4,3.9)(4.4,3.7)(4.6,3.6)(4.9,3.9)(5.2,3.9)(5.2,4.1)(5.5,4.3)(5.4,4.0)(4.1,3.6)(4.8,3.3)(4.9,3.1)(4.1,3.2)(4.8,3.5)(5.9,6.1)(6.0,5.9)(6.1,5.7)(5.9,5.6)(6.2,5.5)(5.6,5.4)(5.8,5.5)(6.0,5.5)(6.2,5.3)(6.4,5.3)(6.1,5.1)(6.3,5.1)(6.4,4.9)(6.2,4.9)(6.5,4.7)(6.3,4.7)(6.1,4.7)(6.5,4.5)(6.3,4.5)(6.1,4.5)(5.9,4.7)(6.5,4.3)(6.3,4.3)(6.1,4.3)(5.8,4.4)(5.6,4.5)(6.3,4.1)(6.1,4.1)(5.9,4.1)(6.1,3.9)(5.9,3.9)(5.7,3.6)(5.9,3.7)(5.5,3.4)(5.7,3.4)(5.3,3.2)(5.1,3.1)(4.9,3.0)(5.5,3.2)(4.25,2.85)(4.35,2.3)(4.3,2.2)(4.2,1.85)(3.05,1.05)(2.6,0.9)(2.8,0.9)(3.5,1.15)(4.1,3.5)(4.7,3.2)(-4.0,6.6)(-3.85,6.3)(-3.75,6.0)(-3.85,5.9)(-3.55,5.6)(-3.6,5.4)(-3.2,5.0)(-3.1,4.45)(-3.05,4.3)(-3.1,4.0)(-2.9,3.7)(-2.9,3.3)(1.1,5.4)(1.3,5.55)(1.5,5.7)(1.7,5.7)(1.9,5.75)(2.1,5.6)(2.3,5.5)(2.7,5.35)(2.8,5.4)(3.0,5.2)(5.95,6.0)(6.05,5.8)(6.05,5.6)(6.15,5.4)(6.3,5.2)(6.2,5.0)(6.35,5.0)(6.4,4.8)(6.25,4.6)(6.4,4.6)(6.2,4.4)(6.4,4.4)(6.2,4.2)(6.0,4.2)(6.0,4.4)(6.0,4.0)(5.8,3.8)(5.6,3.5)(5.4,3.3)(5.2,3.15)(5.0,3.05)(5.7,3.7)(3.6,4.5)(3.4,4.1)(3.6,4.1)(3.8,4.1)(3.4,3.9)(3.6,3.9)(3.8,4.5)(4.0,4.3)(4.0,4.5)}
\Cl{c013}{013}{(8.5,2.1)(8.7,1.9)(8.9,1.7)(8.6,1.7)(9.0,1.5)(8.7,1.5)(9.2,1.3)(9.0,1.3)(8.8,1.3)(8.5,1.2)(8.6,1.1)(9.3,1.1)(9.1,1.0)(8.9,1.0)(8.7,0.9)(9.4,0.8)(9.2,0.8)(9.0,0.7)(8.8,0.7)(9.4,0.6)(9.1,0.5)(9.3,0.4)(8.5,0.3)(8.6,0.2)(9.2,0.2)(9.0,0.1)(9.1,-0.1)(8.9,-0.1)(8.9,-0.3)(8.7,-0.3)(9.0,-0.4)(8.8,-0.5)(8.6,-0.6)(8.8,-0.7)(8.6,-0.8)(8.7,-1.0)(8.8,-1.1)(8.5,-1.4)(8.45,-1.5)(8.8,1.8)(8.8,1.5)(9.1,1.2)(8.9,1.15)(8.7,1.1)(9.2,0.95)(9.0,0.85)(8.8,0.85)(9.3,0.7)(9.1,0.65)(8.9,0.6)(9.2,0.4)(9.0,0.35)(8.9,0.2)(9.1,0.2)(9.0,-0.2)(8.8,-0.2)(8.8,-0.35)(8.75,-0.85)(8.7,-0.55)}
\Cl{c0141}{0141}{(5.9,6.3)(4.55,2.9)(4.1,3.2)(3.55,1.15)(3.5,0.85)(3.5,0.55)(3.4,0.25)(3.6,0.35)(4.05,1.5)(4.1,1.65)(2.75,0.7)(2.6,0.6)(2.4,0.5)(2.3,0.4)(2.15,0.2)(1.85,0.05)(2.1,-0.2)(2.25,-0.5)(2.5,-0.35)(2.7,-0.15)(2.6,-0.7)(2.1,-1.1)(-3.95,2.85)(-2.9,3.0)(-3.4,2.15)(-4.5,1.15)}
\Em{0142}
\Cl{c0143}{0143}{(-1.75,-0.6)(-1.6,-0.45)(-1.4,-0.45)(-1.75,-0.8)(-1.8,-1.0)(-1.7,-0.5)(-2.9,2.05)(-3.0,2.4)(2.65,-0.5)}
\Cl{c02111}{02111}{(2.9,-6.3)(2.9,-6.5)(3.0,-6.7)(2.8,-6.7)(2.6,-6.7)(2.9,-6.9)(2.6,-7.1)(3.0,-7.2)(3.0,-7.4)(3.1,-7.6)(3.0,-7.8)(3.2,-7.8)(3.2,-8.0)(3.4,-8.0)(3.2,-8.2)(3.3,-8.3)(3.0,-8.0)(3.05,-6.5)(2.95,-6.6)(2.9,-6.75)(2.7,-6.8)(2.95,-7.0)(3.05,-7.3)(3.05,-7.5)(3.1,-7.85)(3.1,-8.05)(3.3,-8.1)(3.3,-7.95)(3.1,-8.2)}
\Cl{c02112}{02112}{(1.4,-7.1)(1.6,-7.2)(1.8,-7.1)(2.0,-7.1)(2.3,-7.0)(1.7,-7.3)(1.9,-7.3)(1.5,-7.4)(1.3,-7.5)(1.3,-7.8)(1.5,-7.8)(1.7,-7.7)(1.9,-7.8)(1.3,-8.0)(1.5,-8.0)(1.7,-8.0)(1.9,-8.0)(2.1,-8.0)(1.5,-8.2)(1.7,-8.2)(1.9,-8.2)(2.1,-8.1)(1.4,-7.6)(1.6,-7.5)(1.2,-8.0)(2.0,-7.6)(2.6,-8.0)(2.4,-8.1)(3.05,-7.7)(3.5,-5.4)(3.0,-8.3)(1.5,-7.1)(1.7,-7.15)(1.9,-7.15)(1.6,-7.35)(1.4,-7.3)(1.4,-7.8)(1.6,-7.85)(1.8,-7.85)(1.4,-7.95)(1.6,-8.0)(1.8,-8.1)(2.0,-8.15)(1.6,-8.1)(1.4,-8.1)(1.3,-7.65)(1.2,-7.8)}
\Cl{c02113}{02113}{(3.95,-6.4)(3.8,-6.8)(3.85,-6.7)(3.95,-6.8)(4.2,-7.1)(4.35,-7.2)(4.3,-7.25)(4.05,-7.5)(3.6,-8.05)(2.6,-8.1)(1.4,-8.05)(1.65,-5.1)(-2.15,-4.8)(1.15,-7.05)(3.1,-8.35)(3.45,-8.35)}
\Cl{c02121}{02121}{(0.7,-4.7)(0.8,-4.9)(0.7,-5.1)(0.9,-5.2)(0.7,-5.3)(1.0,-4.9)(0.5,-5.7)(0.4,-5.9)(0.5,-6.1)(0.6,-6.0)(0.5,-6.3)(0.6,-5.9)(1.05,-6.2)(1.7,-5.7)(1.6,-5.9)(1.7,-6.9)(1.5,-7.0)(1.8,-6.6)(2.5,-6.5)(2.7,-6.4)(2.4,-6.5)(0.3,-6.2)(0.6,-5.95)(0.8,-6.05)(0.6,-6.15)(0.7,-5.0)(0.85,-5.3)(0.9,-5.05)}
\Cl{c02122}{02122}{(-0.2,-5.8)(0,-5.7)(-0.2,-6.0)(0,-5.9)(0.2,-5.9)(-0.1,-6.2)(0.1,-6.1)(0.3,-6.2)(0,-6.4)(0.2,-6.4)(0.1,-6.6)(0.3,-6.6)(0.3,-6.8)(0.5,-6.7)(0.7,-6.8)(0.7,-7.0)(0.9,-7.1)(1.0,-7.3)(1.0,-7.5)(1.1,-7.6)(0.9,-7.3)(0.75,-6.1)(0.7,-6.05)(1.7,-6.3)(1.7,-6.6)(1.6,-6.8)(0.8,-5.0)(0.8,-4.9)(1.7,-5.8)(2.4,-6.3)(2.3,-6.4)(0,-5.8)(-0.1,-6.0)(0.05,-6.05)(0.1,-6.3)(0.1,-6.45)(0.25,-6.5)(0.4,-6.7)(0.4,-6.85)(0.6,-6.9)(0.8,-7.0)(0.9,-7.2)(1.0,-7.4)(0.8,-7.05)(0.3,-6.4)}
\Cl{c02123}{02123}{(-2.05,-4.5)(-2.05,-4.3)(-2.15,-4.7)(-1.8,-4.15)(-1.3,-4.1)(-1.15,-4.25)(-0.65,-4.9)(1.25,-7.7)(1.8,-5.0)(-1.95,-4.3)(-2.15,-4.5)(-2.0,-4.5)(-2.15,-4.3)(-2.2,-4.6)(-2.05,-4.65)(-1.95,-4.55)(-2.2,-4.4)}
\Cl{c0221}{0221}{(1.1,-0.9)(1.0,-1.1)(0.8,-1.2)(0.9,-1.4)(0.7,-1.4)(1.0,-1.5)(0.5,-1.6)(0.7,-1.6)(0.5,-1.8)(0.7,-1.8)(0.9,-1.8)(1.1,-1.7)(1.3,-1.8)(0.5,-2.0)(0.7,-2.0)(0.9,-2.0)(1.1,-2.0)(0.5,-2.2)(0.7,-2.2)(0.9,-2.2)(1.1,-2.2)(1.3,-2.1)(0.5,-2.4)(0.7,-2.4)(0.9,-2.4)(1.1,-2.4)(0.5,-2.6)(0.7,-2.6)(0.9,-2.6)(0.3,-2.8)(0.5,-2.8)(0.7,-2.9)(0.9,-2.8)(1.1,-2.8)(1.3,-2.8)(0.2,-3.0)(0.4,-3.0)(0.6,-3.1)(0.8,-3.1)(1.0,-3.0)(1.2,-3.0)(1.4,-3.0)(0.1,-3.2)(1.3,-3.1)(0.4,-3.6)(0.6,-3.5)(0.8,-3.6)(0.4,-3.8)(0.6,-3.8)(0.8,-3.8)(0.3,-4.0)(0.5,-4.0)(0.7,-4.0)(1.3,-3.5)(1.4,-3.4)(1.3,-3.7)(1.2,-3.9)(1.3,-4.1)(1.1,-4.1)(0.6,-4.2)(0.3,-4.2)(1.9,-4.4)(2.1,-4.4)(0.3,-4.7)(1.65,-5.6)(1.65,-5.7)(2.3,-4.8)(1.6,-1.4)(2.6,-3.5)(2.6,-3.3)(2.8,-3.2)(0.05,-3.6)(0.6,-1.5)(0.8,-1.55)(0.6,-1.7)(0.8,-1.7)(1.0,-1.7)(0.6,-1.9)(0.8,-1.9)(1.0,-1.9)(0.6,-2.1)(0.8,-2.1)(1.0,-2.1)(0.6,-2.3)(0.8,-2.3)(1.0,-2.3)(0.6,-2.5)(0.8,-2.5)(1.0,-2.5)(0.6,-2.7)(0.8,-2.7)(1.0,-2.7)(0.4,-2.9)(0.6,-2.9)(0.9,-2.95)(1.1,-2.95)(0.5,-3.15)(0.7,-3.2)(0.5,-3.65)(0.7,-3.65)(0.5,-3.85)(0.3,-3.7)(0.7,-3.85)(0.4,-4.1)(1.2,-3.65)(1.25,-3.85)(1.4,-3.6)}
\Cl{c0222}{0222}{(-1.4,-1.6)(-1.3,-1.7)(-1.1,-2.0)(-0.9,-2.0)(-0.8,-2.2)(-1.0,-2.2)(-0.9,-2.4)(-0.9,-2.7)(-0.8,-2.9)(-1.0,-3.0)(-0.8,-3.1)(-1.1,-3.2)(-0.9,-3.2)(-0.7,-3.3)(-0.55,-3.4)(-1.3,-3.3)(-1.5,-3.3)(-1.7,-3.4)(-1.5,-3.5)(-1.7,-3.6)(-1.9,-3.6)(-2.1,-3.7)(-1.9,-3.8)(-1.7,-3.8)(-2.1,-3.9)(-1.9,-4.0)(-1.7,-4.0)(-1.5,-4.1)(-1.05,-3.5)(-0.9,-4.25)(-0.9,-4.4)(-0.2,-3.2)(-0.65,-4.85)(0.2,-5.05)(2.0,-5.8)(1.6,-5.5)(-1.0,-2.1)(-0.9,-2.15)(-0.9,-3.05)(-1.0,-3.15)(-1.2,-3.3)(-1.4,-3.35)(-1.6,-3.45)(-1.8,-3.7)(-1.8,-3.9)(-2.0,-3.85)(-1.6,-3.9)(-2.0,-4.0)(-1.8,-3.5)}
\Cl{c0223}{0223}{(0,-3.2)(0.2,-3.3)(-0.1,-3.5)(-0.1,-3.7)(0.1,-3.7)(-0.05,-3.95)(0.2,-4.1)(0.1,-4.3)(0.3,-4.3)(0.5,-4.3)(-0.1,-4.5)(0.1,-4.5)(0.3,-4.5)(0.5,-4.5)(0.7,-4.4)(-0.3,-4.7)(-0.1,-4.7)(0.1,-4.7)(-0.3,-4.9)(-0.1,-4.9)(-0.3,-5.1)(-0.1,-5.1)(0.1,-5.1)(0.2,-5.3)(0,-5.3)(-0.2,-5.3)(0.2,-5.5)(0,-5.5)(-0.1,-5.6)(0.55,-2.75)(0.75,-1.05)(0.9,-1.3)(1.0,-1.5)(1.3,-1.3)(1.1,-4.5)(1.0,-4.3)(1.4,-4.3)(1.65,-4.85)(2.15,-4.5)(1.2,-4.7)(1.7,-1.55)(1.9,-3.0)(0.0,-4.6)(0.2,-4.6)(0.4,-4.6)(0.3,-4.35)(0,-4.4)(0.2,-4.85)(0.1,-4.9)(-0.2,-5.0)(0,-5.0)(-0.15,-5.2)(-0.05,-5.45)(0.1,-5.4)(0.05,-4.95)(0.25,-5.1)(0.3,-5.2)(0.1,-5.6)(0.3,-5.6)}
\Cl{c0231}{0231}{(2.75,-2.5)(3.0,-2.7)(3.1,-2.8)(2.8,-2.8)(2.6,-2.8)(2.9,-3.0)(2.7,-3.1)(3.0,-3.1)(2.8,-3.2)(2.8,-3.4)(2.6,-3.6)(1.75,-2.9)(1.4,-3.0)(1.3,-2.45)(1.0,-4.6)(1.6,-4.25)(2.25,-3.9)(2.75,-4.0)(3.0,-4.05)(2.4,-4.9)(3.1,-4.9)(2.4,-5.2)(2.6,-5.2)(2.8,-5.3)(2.9,-5.4)(2.6,-5.8)(2.7,-6.0)(2.8,-6.1)(2.9,-2.85)(2.85,-3.0)(2.95,-2.9)(2.7,-2.95)(2.9,-3.2)(2.7,-3.3)(2.65,-3.4)}
\Cl{c0232}{0232}{(3.2,-4.3)(3.3,-4.6)(3.35,-4.8)(3.45,-5.0)(3.5,-5.15)(3.3,-5.15)(3.0,-5.6)(2.9,-5.55)(3.1,-4.2)(3.2,-4.5)(3.4,-4.95)(3.3,-4.7)(3.4,-4.7)(3.5,-4.85)(3.3,-4.85)(3.6,-5.0)(3.4,-5.1)(3.55,-5.15)}
\Em{0233}
\Cl{c0234}{0234}{(-2.3,-3.75)(-2.3,-3.9)(-2.1,-3.6)(-1.9,-3.2)(-1.6,-1.4)(2.65,-3.6)(2.8,-4.1)}
\Cl{c0311}{0311}{(-7.05,4.0)(-7.0,3.7)(-7.2,3.5)(-7.4,3.3)(-7.4,3.1)(-7.2,3.1)(-7.3,2.9)(-7.1,2.8)(-6.7,3.6)(-6.2,3.6)(-5.9,3.3)(-5.7,3.1)(-5.7,2.9)(-7.3,2.1)(-7.1,2.1)(-7.3,1.9)(-7.2,1.7)(-7.2,1.5)(-6.6,2.1)(-6.4,2.1)(-6.2,2.1)(-6.6,1.9)(-6.4,1.9)(-6.2,1.8)(-6.0,1.9)(-6.9,1.7)(-6.7,1.7)(-6.5,1.7)(-6.3,1.6)(-6.1,1.6)(-5.9,1.6)(-6.9,1.3)(-6.7,1.3)(-6.5,1.4)(-6.3,1.4)(-6.1,1.3)(-7.2,1.0)(-7.0,1.0)(-6.9,0.9)(-5.9,1.0)(-5.7,0.8)(-6.5,0.85)(-2.15,-0.9)(-2.4,-3.7)(-3.0,2.6)(-3.3,2.8)(-6.5,1.9)(-6.3,1.85)(-6.5,2.0)(-6.1,1.75)(-6.5,1.55)(-6.3,1.75)(-6.7,1.5)(-6.1,1.45)(-6.3,1.25)(-6.5,1.2)(-7.25,2.0)(-6.8,1.45)(-7.25,1.85)(-6.0,1.75)}
\Cl{c0312}{0312}{(-7.1,0.6)(-6.9,0.7)(-6.7,0.6)(-6.5,0.6)(-6.3,0.5)(-7.0,0.4)(-6.2,1.1)(-6.7,0.9)(-5.3,0.4)(-5.1,0.2)(-4.8,0.05)(-5.0,0.0)(-5.2,0.0)(-5.0,-0.3)(-5.2,-0.4)(-5.4,-0.6)(-5.6,-0.6)(-5.9,-0.4)(-6.0,-0.6)(-5.8,-0.6)(-6.65,-0.45)(-6.4,-1.0)(-6.2,-1.0)(-6.0,-1.0)(-5.8,-1.0)(-5.6,-1.0)(-6.3,-1.1)(-6.0,-1.2)(-5.7,-1.2)(-5.6,-1.3)(-5.9,-1.25)(-3.95,0.2)(-5.4,-0.8)(-6.0,-0.75)(-2.1,-3.2)(-2.2,-3.4)(-6.85,0.5)(-6.55,0.45)(-5.1,0.05)(-5.1,-0.15)(-5.3,-0.5)(-5.45,-0.7)(-5.9,-0.5)(-6.2,-1.15)(-5.8,-1.15)(-5.95,-1.1)}
\Cl{c0313}{0313}{(-5.4,2.2)(-5.2,2.1)(-5.4,2.0)(-5.0,2.0)(-4.8,2.1)(-4.6,2.1)(-4.4,2.1)(-4.2,2.0)(-4.0,2.4)(-4.1,2.1)(-3.9,1.9)(-4.3,1.8)(-4.1,1.7)(-4.3,1.6)(-4.1,1.4)(-4.2,1.2)(-5.3,1.4)(-5.1,1.4)(-4.9,1.3)(-4.7,1.3)(-5.3,1.2)(-5.1,1.2)(-4.9,1.1)(-4.7,1.1)(-4.5,1.2)(-5.0,0.9)(-4.8,0.9)(-4.9,0.7)(-5.9,0.6)(-5.8,0.4)(-4.4,0.6)(-4.2,0.6)(-4.5,0.4)(-4.3,0.4)(-4.1,0.4)(-4.8,0.2)(-5.55,2.5)(-5.2,2.5)(-5.0,1.25)(-4.8,1.2)(-5.2,1.3)(-4.9,1.45)(-4.7,1.0)(-5.1,1.05)(-4.95,0.85)(-4.6,2.0)(-4.2,1.85)(-4.2,1.55)(-4.35,0.5)(-4.2,0.45)(-5.2,2.2)}
\Cl{c0321}{0321}{(1.1,-0.4)(1.3,-0.3)(1.5,-0.2)(1.7,-0.2)(1.3,-0.5)(1.5,-0.5)(1.7,-0.5)(1.4,-0.7)(1.6,-0.7)(1.8,-0.7)(1.6,-0.9)(1.8,-0.9)(1.5,-1.1)(1.3,-1.2)(1.2,-0.35)(1.4,-0.4)(1.6,-0.35)(1.4,-0.55)(1.6,-0.55)(1.5,-0.8)(1.7,-0.8)(1.4,-1.0)(1.6,-1.05)(1.35,-1.1)}
\Cl{c0322}{0322}{(2.4,-0.5)(2.2,-0.7)(-3.2,3.3)(-2.9,2.8)(-1.9,-1.0)}
\Cl{c0323}{0323}{(0.75,5.0)(0.9,5.05)(1.05,5.2)(1.25,5.2)(2.15,5.3)(4.7,4.95)(5.2,5.35)(-5.45,2.35)(-5.3,2.5)(-6.0,-0.15)(1.3,-1.5)}
\Cl{c0324}{0324}{(-4.0,6.65)(-6.05,3.8)(-5.9,3.3)(-5.95,4.3)(-3.0,1.85)(-5.5,0.45)(-5.5,0.0)(-5.55,-0.4)(-1.8,-1.0)(-1.55,-1.2)(-1.2,-0.45)(-1.4,-0.7)(-0.45,-1.5)(-1.3,-1.7)(4.75,-7.0)(4.55,-7.15)(4.65,-7.05)(2.85,-6.3)(2.8,-5.85)(2.5,-6.0)}
\Em{0331}
\Cl{c0332}{0332}{(8.35,2.2)(8.8,1.95)(-1.8,-0.7)}
\Cl{c0333}{0333}{(-5.2,1.7)(-5.0,1.85)(-5.7,0.8)(-5.55,0.4)(-5.5,0.2)(-2.85,2.5)}
\draw[black!75,line width=0.9pt] (axis cs:-5,-9)--(axis cs:10,-9);
\draw[black!75,line width=0.9pt] (axis cs:-8.08,-5)--(axis cs:-8.08,5);
\end{axis}
\node[font=\txt,anchor=base west,inner sep=0pt] at (927.7pt,468pt) {Class};
\end{tikzpicture}
\end{document}
